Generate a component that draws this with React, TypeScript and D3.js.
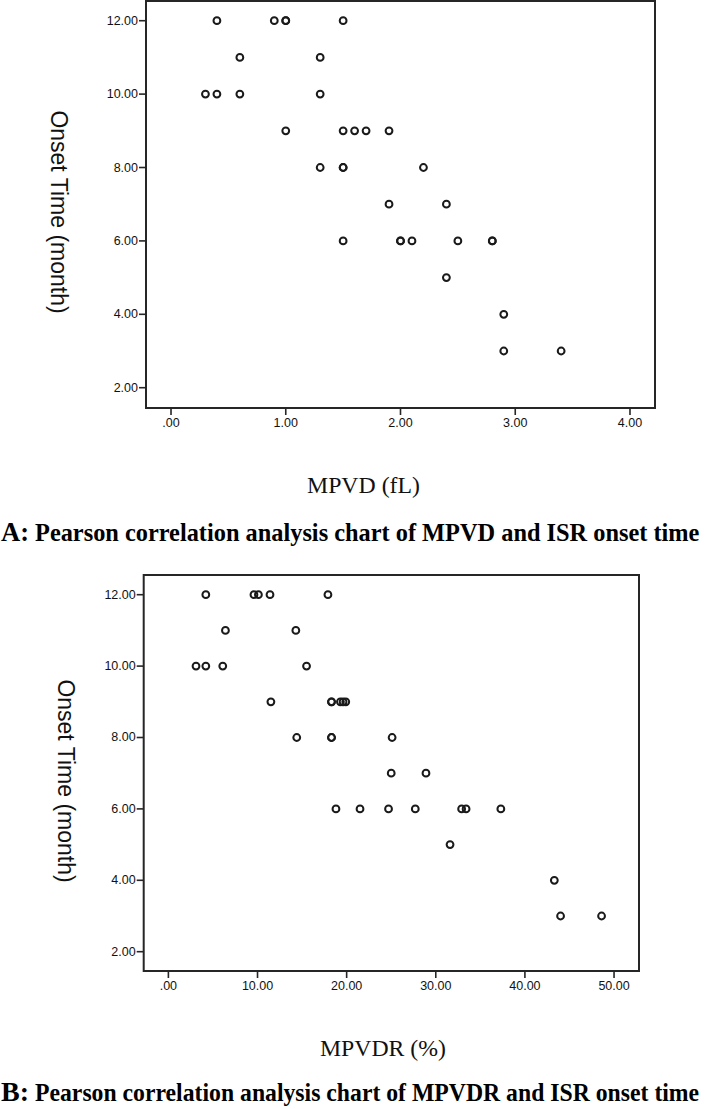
import React, { useLayoutEffect, useRef, useState } from "react";
import * as d3 from "d3";

// ---- Data ----
const mpvdA: number[] = [
  0.4, 0.9, 1.0, 1.0, 1.5,
  0.6, 1.3,
  0.3, 0.4, 0.6, 1.3,
  1.0, 1.5, 1.6, 1.7, 1.9,
  1.3, 1.5, 1.5, 2.2,
  1.9, 2.4,
  1.5, 2.0, 2.0, 2.1, 2.5, 2.8, 2.8,
  2.4,
  2.9,
  2.9, 3.4,
];
const onsetA: number[] = [
  12, 12, 12, 12, 12,
  11, 11,
  10, 10, 10, 10,
  9, 9, 9, 9, 9,
  8, 8, 8, 8,
  7, 7,
  6, 6, 6, 6, 6, 6, 6,
  5,
  4,
  3, 3,
];
const mpvdrB: number[] = [
  4.2, 9.6, 10.1, 11.4, 17.9,
  6.4, 14.3,
  3.1, 4.2, 6.1, 15.5,
  11.5, 18.3, 18.3, 19.3, 19.6, 19.9,
  14.4, 18.3, 18.3, 25.1,
  25.0, 28.9,
  18.8, 21.5, 24.7, 27.7, 32.9, 33.4, 37.3,
  31.6,
  43.3,
  44.0, 48.6,
];
const onsetB: number[] = [
  12, 12, 12, 12, 12,
  11, 11,
  10, 10, 10, 10,
  9, 9, 9, 9, 9, 9,
  8, 8, 8, 8,
  7, 7,
  6, 6, 6, 6, 6, 6, 6,
  5,
  4,
  3, 3,
];
const yTicks: number[] = [2, 4, 6, 8, 10, 12];
const xTicksA: number[] = [0, 1, 2, 3, 4];
const xTicksB: number[] = [0, 10, 20, 30, 40, 50];
const yTitle = "Onset Time (month)";
const xTitleA = "MPVD (fL)";
const xTitleB = "MPVDR (%)";
const captionA = ["A:", "Pearson correlation analysis chart of MPVD and ISR onset time"];
const captionB = ["B:", "Pearson correlation analysis chart of MPVDR and ISR onset time"];

const fmt = (v: number) => {
  const s = v.toFixed(2);
  return s.startsWith("0.") ? s.slice(1) : s;
};

// Text horizontally scaled to a given width (measured after mount)
function FitText(props: {
  x: number;
  y: number;
  width: number;
  fontSize: number;
  fontFamily: string;
  fontWeight?: string;
  fill?: string;
  children: string;
}) {
  const ref = useRef<SVGTextElement>(null);
  const [sx, setSx] = useState(0.85);
  useLayoutEffect(() => {
    if (ref.current) {
      const w = ref.current.getComputedTextLength();
      if (w > 0) setSx(props.width / w);
    }
  }, [props.width, props.children, props.fontSize]);
  return (
    <text
      ref={ref}
      transform={`translate(${props.x},${props.y}) scale(${sx},1)`}
      fontSize={props.fontSize}
      fontFamily={props.fontFamily}
      fontWeight={props.fontWeight}
      fill={props.fill || "#000"}
    >
      {props.children}
    </text>
  );
}

type PanelProps = {
  xs: number[];
  ys: number[];
  xTicks: number[];
  xDomain: [number, number];
  yDomain: [number, number];
  left: number;
  right: number;
  top: number;
  bottom: number;
  yTitleX: number;
  yTitleY: number;
  xTitle: string;
  xTitleX0: number;
  xTitleW: number;
  xTitleY: number;
  caption: string[];
  captionY: number;
};

const ink = "#262626";
const serif = "'Liberation Serif', 'Times New Roman', serif";
const sans = "'Liberation Sans', Arial, sans-serif";

function Panel(p: PanelProps) {
  const x = d3.scaleLinear().domain(p.xDomain).range([p.left, p.right]);
  const y = d3.scaleLinear().domain(p.yDomain).range([p.bottom, p.top]);
  const tickLen = 7;
  return (
    <g>
      <rect
        x={p.left}
        y={p.top}
        width={p.right - p.left}
        height={p.bottom - p.top}
        fill="none"
        stroke={ink}
        strokeWidth={2}
      />
      {yTicks.map((t) => (
        <g key={"y" + t}>
          <line x1={p.left - tickLen} x2={p.left} y1={y(t)} y2={y(t)} stroke={ink} strokeWidth={1.6} />
          <text
            x={p.left - tickLen - 1}
            y={y(t)}
            textAnchor="end"
            dominantBaseline="central"
            fontFamily={sans}
            fontSize={12.5}
            fill="#111"
          >
            {fmt(t)}
          </text>
        </g>
      ))}
      {p.xTicks.map((t) => (
        <g key={"x" + t}>
          <line x1={x(t)} x2={x(t)} y1={p.bottom} y2={p.bottom + tickLen} stroke={ink} strokeWidth={1.6} />
          <text
            x={x(t)}
            y={p.bottom + 15}
            textAnchor="middle"
            dominantBaseline="central"
            fontFamily={sans}
            fontSize={12.5}
            fill="#111"
          >
            {fmt(t)}
          </text>
        </g>
      ))}
      {p.xs.map((v, i) => (
        <circle
          key={"p" + i}
          cx={x(v)}
          cy={y(p.ys[i])}
          r={3.4}
          fill="none"
          stroke="#1a1a1a"
          strokeWidth={2}
        />
      ))}
      <text
        transform={`translate(${p.yTitleX},${p.yTitleY}) rotate(90)`}
        textAnchor="middle"
        dominantBaseline="central"
        fontFamily={sans}
        fontSize={23}
        fill="#111"
      >
        {yTitle}
      </text>
      <FitText
        x={p.xTitleX0}
        y={p.xTitleY}
        width={p.xTitleW}
        fontSize={24}
        fontFamily={serif}
        fill="#111"
      >
        {p.xTitle}
      </FitText>
      <FitText
        x={1}
        y={p.captionY}
        width={28}
        fontSize={28}
        fontFamily={serif}
        fontWeight="bold"
      >
        {p.caption[0]}
      </FitText>
      <FitText
        x={35}
        y={p.captionY}
        width={664}
        fontSize={26}
        fontFamily={serif}
        fontWeight="bold"
      >
        {p.caption[1]}
      </FitText>
    </g>
  );
}

export default function App() {
  return (
    <svg
      width={709}
      height={1109}
      style={{ position: "absolute", left: 0, top: 0, background: "#fff" }}
    >
      <rect x={0} y={0} width={709} height={1109} fill="#fff" />
      <Panel
        xs={mpvdA}
        ys={onsetA}
        xTicks={xTicksA}
        xDomain={[-0.218, 4.218]}
        yDomain={[1.447, 12.537]}
        left={146}
        right={655}
        top={1}
        bottom={408}
        yTitleX={59}
        yTitleY={212}
        xTitle={xTitleA}
        xTitleX0={307}
        xTitleW={113}
        xTitleY={493}
        caption={captionA}
        captionY={541}
      />
      <Panel
        xs={mpvdrB}
        ys={onsetB}
        xTicks={xTicksB}
        xDomain={[-2.77, 52.8]}
        yDomain={[1.459, 12.552]}
        left={143.7}
        right={639}
        top={575}
        bottom={971}
        yTitleX={66}
        yTitleY={781}
        xTitle={xTitleB}
        xTitleX0={320}
        xTitleW={126}
        xTitleY={1056}
        caption={captionB}
        captionY={1101}
      />
    </svg>
  );
}
